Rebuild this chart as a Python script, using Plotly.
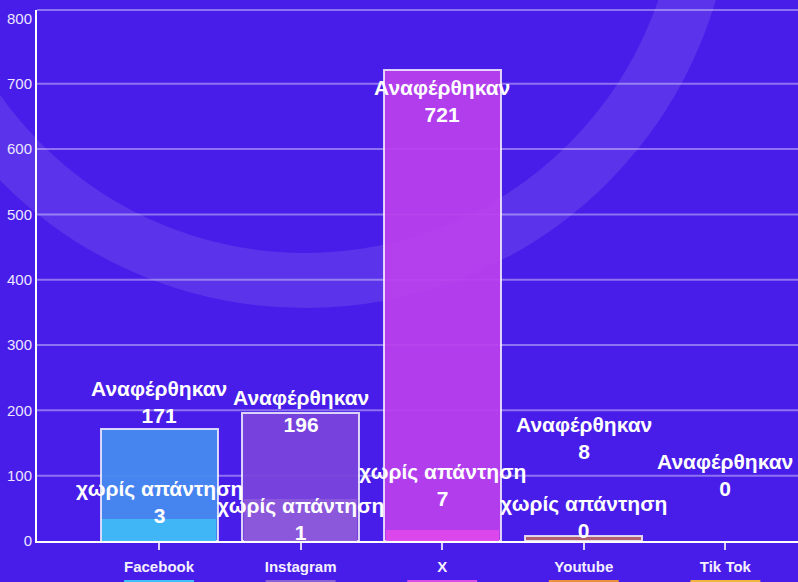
import plotly.graph_objects as go

# ---- data ----
platforms = ["Facebook", "Instagram", "X", "Youtube", "Tik Tok"]
mentioned = [171, 196, 721, 8, 0]              # "Αναφέρθηκαν"
no_answer = [3, 1, 7, 0, None]                 # "χωρίς απάντηση" (label values)
no_answer_bar = [34, 64, 17, 0, 0]             # heights of the lighter inner bars as drawn
y_ticks = [0, 100, 200, 300, 400, 500, 600, 700, 800]

# ---- styles ----
BG = "#481ce9"
main_colors = ["#468cf0", "#7a44dc", "#ba40ee", "#b96668", "#e0a040"]
inner_colors = ["#40b8f5", "#8c58da", "#de48ec", "#e8903a", "#f0b040"]
swatch_colors = ["#3fc0f8", "#8a60d8", "#d84ce8", "#ec8e3a", "#f0b440"]
FONT = "Liberation Sans, Arial, sans-serif"
label_font = dict(family=FONT, size=21, color="white")
GRID = "rgba(255,255,255,0.38)"

# label offsets (pixels, relative to value position)
mentioned_shift = [27, 2, -31, 98, 66]
no_answer_shift = [37, 21, 51, 24, 0]

fig = go.Figure()

fig.add_trace(go.Bar(
    x=platforms, y=mentioned, width=0.826,
    marker=dict(color=main_colors, opacity=0.93,
                line=dict(color="rgba(255,255,255,0.85)",
                          width=[2 if v > 0 else 0 for v in mentioned])),
    hoverinfo="skip", showlegend=False,
))
fig.add_trace(go.Bar(
    x=platforms, y=no_answer_bar, width=0.80,
    marker=dict(color=inner_colors, opacity=0.95, line=dict(width=0)),
    hoverinfo="skip", showlegend=False,
))

for i, v in enumerate(mentioned):
    fig.add_annotation(x=i, y=v, xref="x", yref="y", yanchor="middle",
                       text=f"<b>Αναφέρθηκαν<br>{v}</b>", showarrow=False,
                       yshift=mentioned_shift[i], font=label_font)
for i, v in enumerate(no_answer):
    if v is None:
        continue
    fig.add_annotation(x=i, y=v, xref="x", yref="y", yanchor="middle",
                       text=f"<b>χωρίς απάντηση<br>{v}</b>", showarrow=False,
                       yshift=no_answer_shift[i], font=label_font)

# decorative ring
fig.add_shape(type="circle", xref="paper", yref="paper",
              x0=-0.1741, x1=0.8785, y0=0.4906, y1=1.999,
              line=dict(color="rgba(255,255,255,0.10)", width=55),
              fillcolor="rgba(0,0,0,0)", layer="below")
# horizontal grid lines (the top one is hidden by the frame line)
for t in y_ticks[1:-1]:
    fig.add_shape(type="line", xref="paper", yref="y", x0=0, x1=1, y0=t, y1=t,
                  line=dict(color=GRID, width=2), layer="below")
# top frame line
fig.add_shape(type="line", xref="paper", yref="paper", x0=0, x1=1, y0=1, y1=1,
              line=dict(color=GRID, width=2), layer="below")
# colour swatches under category labels
for i, c in enumerate(swatch_colors):
    fig.add_shape(type="rect", xref="x", yref="paper",
                  x0=i - 0.247, x1=i + 0.247, y0=-0.0734, y1=-0.2,
                  fillcolor=c, line=dict(width=0), layer="above")

fig.update_layout(
    width=798, height=582,
    margin=dict(l=37, r=0, t=10, b=41),
    paper_bgcolor=BG, plot_bgcolor="rgba(0,0,0,0)",
    barmode="overlay", bargap=0,
    font=dict(family=FONT, color="white"),
    xaxis=dict(type="category", range=[-0.862, 4.513],
               showgrid=False, zeroline=False,
               showline=True, linecolor="white", linewidth=2,
               ticks="outside", ticklen=7, tickwidth=2,
               tickcolor="rgba(255,255,255,0.8)",
               tickfont=dict(size=15, color="#f4f0ff", family=FONT, weight="bold"),
               ticklabelstandoff=4, fixedrange=True),
    yaxis=dict(range=[0, 813], tickvals=y_ticks,
               showgrid=False, zeroline=False,
               showline=True, linecolor="white", linewidth=2,
               ticks="", tickfont=dict(size=15, color="#ece6ff", family=FONT),
               ticklabelstandoff=0, fixedrange=True),
)

fig.write_html("out.html", config={"displayModeBar": False},
               post_script="document.body.style.margin='0';document.body.style.overflow='hidden';")
